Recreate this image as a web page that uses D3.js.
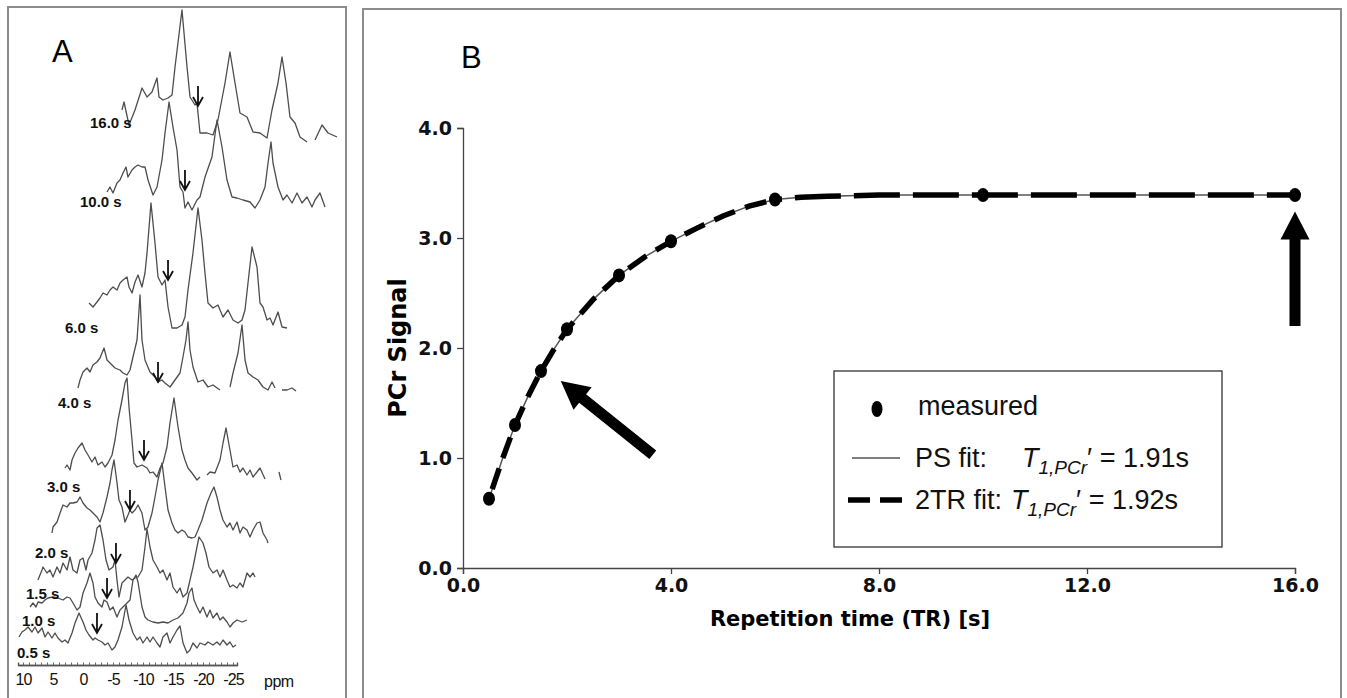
<!DOCTYPE html>
<html>
<head>
<meta charset="utf-8">
<script src="https://d3js.org/d3.v7.min.js"></script>
<style>
  body { margin: 0; background: #fff; }
  svg { display: block; }
</style>
</head>
<body>
<svg id="fig" width="1347" height="698"></svg>
<script>
// ---------- panel B: PCr saturation recovery ----------
const trMeasured = [0.5, 1.0, 1.5, 2.0, 3.0, 4.0, 6.0, 10.0, 16.0];
const pcrMeasured = [0.63, 1.30, 1.79, 2.17, 2.66, 2.97, 3.35, 3.39, 3.39];

const trFit = [0.5, 0.75, 1.0, 1.25, 1.5, 1.75, 2.0, 2.5, 3.0, 3.5, 4.0, 4.5, 5.0, 5.5, 6.0, 6.5, 7.0, 8.0, 10.0, 12.0, 16.0];
const psFitSignal = [0.63, 0.98, 1.30, 1.56, 1.79, 1.99, 2.17, 2.44, 2.66, 2.83, 2.97, 3.09, 3.20, 3.29, 3.35, 3.37, 3.38, 3.39, 3.39, 3.39, 3.39];
const twoTrFitSignal = [0.63, 0.98, 1.30, 1.56, 1.79, 1.99, 2.17, 2.44, 2.66, 2.83, 2.97, 3.09, 3.20, 3.29, 3.35, 3.37, 3.38, 3.39, 3.39, 3.39, 3.39];

const xTicks = [0, 4, 8, 12, 16];
const yTicks = [0, 1, 2, 3, 4];

// annotation arrows, [TR, signal] tail -> tip
const arrowsB = [
  [[3.65, 1.03], [1.88, 1.70]],
  [[16.0, 2.20], [16.0, 3.24]]
];

// ---------- panel A: stacked 31P spectra, [ppm, intensity] ----------
const trLabels = ["0.5 s", "1.0 s", "1.5 s", "2.0 s", "3.0 s", "4.0 s", "6.0 s", "10.0 s", "16.0 s"];

const spec05 = [[10.67,8],[10.17,13],[9.67,15],[9.17,18],[8.5,13],[8.0,18],[7.5,12],[6.83,17],[6.33,8],[5.83,13],[5.17,7],[4.67,12],[4.17,7],[3.5,3],[3.0,5],[2.5,2],[1.83,12],[1.33,22],[0.67,32],[0,23],[-0.5,15],[-1.0,10],[-1.67,5],[-2.0,7],[-2.5,5],[-3.17,3],[-3.67,0],[-4.17,2],[-4.83,-5],[-5.33,-2],[-5.83,5],[-6.5,18],[-7.17,40],[-7.67,25],[-8.33,12],[-9.0,5],[-9.5,8],[-10.0,2],[-10.67,8],[-11.17,3],[-11.67,8],[-12.33,2],[-12.83,-2],[-13.33,8],[-14.0,12],[-14.5,2],[-15.0,8],[-15.67,15],[-16.17,19],[-16.67,2],[-17.33,-8],[-17.83,-5],[-18.33,2],[-19,-3],[-19.5,2],[-20.33,0],[-20.83,3],[-21.67,0],[-22.33,3],[-22.83,0],[-23.33,5],[-24,0],[-24.5,3],[-25,-2],[-25.5,0]];
const spec10 = [[10.67,13],[10.17,17],[9.67,13],[9.33,18],[8.67,17],[8.17,20],[7.67,22],[6.83,23],[6.0,22],[5.17,20],[4.5,23],[4.0,22],[3.5,17],[2.83,10],[2.33,13],[1.83,27],[1.17,37],[0.67,47],[0.17,37],[-0.17,23],[-0.67,17],[-1.33,13],[-1.67,20],[-2.17,18],[-2.67,10],[-3.17,13],[-3.83,3],[-4.33,10],[-4.83,13],[-5.5,17],[-6.0,20],[-6.5,40],[-7.0,45],[-7.33,38],[-8.0,13],[-8.5,3],[-9.0,0],[-9.83,-2],[-10.67,-3],[-11.5,-2],[-12.33,-3],[-13.17,0],[-14,2],[-14.83,7],[-15.5,17],[-15.83,27],[-16.33,32],[-16.67,20],[-17.17,13],[-17.67,7],[-18.17,13],[-18.83,3],[-19.33,10],[-19.83,2],[-20.5,7],[-21,0],[-21.5,3],[-22.17,-2],[-22.67,-7],[-23.17,-3],[-23.83,0],[-24.67,-2],[-25.5,0]];
const spec15 = [[10.67,-3],[10.0,7],[9.83,10],[9.17,4],[8.67,7],[8.17,0],[7.5,10],[7.0,4],[6.5,14],[5.83,7],[5.33,20],[4.83,7],[4.17,4],[3.67,17],[3.17,19],[2.67,7],[2.33,17],[1.67,24],[1.17,37],[0.83,49],[0.33,52],[-0.17,37],[-0.67,17],[-1.17,7],[-1.83,10],[-2.17,17],[-2.5,-3],[-2.83,-20],[-3.33,-6],[-3.83,-3],[-4.33,0],[-5.0,-3],[-5.5,-1],[-6.0,0],[-6.67,7],[-7.17,30],[-7.5,48],[-8.0,30],[-8.5,17],[-9.17,10],[-9.67,4],[-10.17,7],[-10.83,-3],[-11.33,4],[-11.83,-10],[-12.5,-16],[-13,-11],[-13.5,-20],[-14.17,-16],[-14.67,-3],[-15.17,10],[-15.83,30],[-16.17,40],[-16.83,34],[-17.33,24],[-17.83,10],[-18.5,4],[-19.17,7],[-19.67,0],[-20.17,7],[-20.83,-3],[-21.33,-10],[-21.83,-8],[-22.5,-11],[-23,-6],[-23.5,-10],[-24.17,4],[-24.67,0],[-25.17,4],[-25.5,0]];
const spec20 = [[10.67,10],[10.5,16],[9.83,21],[9.33,30],[8.83,38],[8.17,36],[7.67,40],[7.17,40],[6.5,41],[6.0,46],[5.5,40],[4.83,35],[4.33,33],[3.83,30],[3.17,26],[2.67,21],[2.17,30],[1.5,46],[1.0,60],[0.67,73],[0.33,83],[-0.17,60],[-0.5,43],[-1.0,36],[-1.5,21],[-2.0,28],[-2.33,33],[-2.67,30],[-3.17,33],[-3.67,38],[-4.33,30],[-4.83,13],[-5.33,16],[-6.0,30],[-6.5,46],[-7.0,63],[-7.67,80],[-8.17,56],[-8.67,33],[-9.33,20],[-9.83,13],[-10.33,10],[-11,13],[-11.5,11],[-12,6],[-12.67,5],[-13.17,6],[-13.67,13],[-14.33,23],[-15.17,40],[-15.83,50],[-16.33,56],[-16.83,46],[-17.33,33],[-17.83,23],[-18.5,16],[-19,20],[-19.5,13],[-20.17,21],[-20.67,10],[-21.17,16],[-21.83,13],[-22.33,6],[-22.83,13],[-23.5,20],[-24,21],[-24.5,10],[-25.17,3],[-25.33,0]];
const spec30 = [[10.67,11],[10.33,14],[9.83,9],[9.5,19],[9.0,26],[8.5,31],[7.83,36],[7.33,29],[6.83,24],[6.17,17],[5.67,22],[5.17,14],[4.5,17],[4.0,12],[3.5,16],[2.83,24],[2.33,39],[1.83,59],[1.17,79],[0.67,96],[0.33,101],[0,72],[-0.5,39],[-0.83,16],[-1.33,12],[-2.17,14],[-3.0,11],[-3.5,6],[-4.0,7],[-4.67,2],[-5.17,11],[-5.67,16],[-6.33,32],[-6.83,56],[-7.5,81],[-8.17,52],[-8.83,29],[-9.33,19],[-9.83,11],[-10.5,6],[-11.33,-1],[-11.83,2],null,[-13,4],[-13.5,7],[-14.33,6],[-15.17,19],[-15.67,36],[-16.17,51],[-16.83,29],[-17.33,12],[-18,14],[-18.5,7],[-19,11],[-19.67,4],[-20.17,9],[-20.67,2],[-21.33,7],[-21.83,11],[-22.67,0],null,[-25.0,7],[-25.33,-1]];
const spec40 = [[10.67,3],[10.33,11],[9.83,19],[9.17,23],[8.67,19],[8.17,26],[7.5,29],[7.0,33],[6.33,43],[5.83,31],[5.33,28],[4.5,23],[3.67,21],[3.17,18],[2.5,16],[2.0,21],[1.5,34],[0.83,51],[0.33,96],[0,51],[-0.5,31],[-1.33,19],[-2.17,14],[-2.67,9],[-3.33,11],[-3.83,8],[-4.67,4],[-5.5,11],[-6.33,18],[-6.83,34],[-7.33,51],[-7.67,69],[-8.0,41],[-8.5,24],[-9.33,9],[-10.17,11],[-11,4],[-11.83,6],[-13,1],null,[-14.67,4],[-15.17,18],[-16,38],[-16.67,66],[-17.17,31],[-17.67,18],[-18.5,14],[-19.33,11],[-20.17,4],[-21,1],[-21.67,9],[-22.17,3],null,[-23.33,1],[-24.17,1],[-25,3],[-25.67,0]];
const spec60 = [[10.5,25],[9.83,21],[9.17,26],[8.67,30],[8.17,35],[7.5,33],[7.0,38],[6.5,41],[5.83,38],[5.33,45],[4.83,48],[4.17,51],[3.83,41],[3.33,35],[2.83,46],[2.33,53],[1.67,41],[1.17,55],[0.83,75],[0.17,125],[-0.5,85],[-1.0,51],[-1.67,43],[-2.17,48],[-2.67,21],[-3.33,0],[-4.17,0],[-5.0,3],[-5.5,11],[-6.0,38],[-6.83,75],[-7.67,120],[-8.33,88],[-8.83,55],[-9.33,25],[-10.17,20],[-11,23],[-11.83,11],[-12.67,18],[-13.5,8],[-14.33,5],[-15,8],[-15.5,18],[-16,45],[-16.67,81],[-17.5,61],[-18,25],[-18.5,21],[-19.17,8],[-19.67,10],[-20.17,3],[-21,16],[-21.67,1],[-22.5,0]];
const spec100 = [[10.67,15],[10.17,20],[9.67,14],[9.0,24],[8.5,27],[8.0,34],[7.5,40],[7.17,30],[6.5,37],[6.0,40],[5.5,42],[4.83,40],[4.33,40],[3.83,27],[3.0,12],[2.33,20],[1.5,47],[1.0,74],[0.33,105],[-0.33,80],[-1.0,57],[-1.5,20],[-2.0,15],[-2.33,-1],[-2.83,5],[-3.5,-3],[-4.33,7],[-4.83,10],[-5.67,30],[-6.83,50],[-7.67,87],[-8.5,60],[-9.33,27],[-10.17,10],[-11,9],[-12,7],[-13.17,5],[-14,-1],[-14.83,7],[-15.67,20],[-16.17,44],[-16.67,65],[-17,44],[-17.83,20],[-18.67,7],[-19.33,12],[-20.17,4],[-21,14],[-21.83,4],[-22.67,10],[-23.5,0],[-24,7],[-24.83,14],[-25.67,0]];
const spec160 = [[10.67,28],[10.33,36],[9.5,13],[8.5,28],[7.33,50],[6.5,41],[5.67,46],[4.83,60],[4.5,41],[3.83,38],[3.0,40],[2.33,43],[1.83,71],[0.67,128],[-0.17,71],[-0.67,41],[-1.5,33],[-1.83,35],[-2.33,5],[-3.5,5],[-4.5,3],[-5.33,18],[-6.5,55],[-7.33,86],[-8.17,55],[-9,25],[-10.17,21],[-11.17,6],[-12.33,5],[-13.5,0],[-14.33,28],[-15.33,55],[-16,81],[-16.67,55],[-17.33,21],[-18.17,15],[-19,1],[-20.17,-4],null,[-21.5,-2],[-22.67,13],[-23.67,5],[-25.17,1]];

const spectra = [spec05, spec10, spec15, spec20, spec30, spec40, spec60, spec100, spec160];

// gamma-ATP markers (down arrows), [ppm, intensity of arrow tip]
const gammaMarks = [[-2.33,12],[-2.17,22],[-2.33,14],[-2.33,33],[-2.5,19],[-2.67,9],[-2.67,48],[-2.33,17],[-2.0,32]];

const ppmTicks = [10, 5, 0, -5, -10, -15, -20, -25];

// stacking of the pseudo-3D plot (front to back): shift, baseline, label spot
const stackLayout = [
  { dx: 0,   base: 645, lx: 17, ly: 658 },
  { dx: 11,  base: 620, lx: 22, ly: 626 },
  { dx: 19,  base: 577, lx: 26, ly: 599 },
  { dx: 33,  base: 543, lx: 35, ly: 558 },
  { dx: 46,  base: 479, lx: 47, ly: 492 },
  { dx: 59,  base: 391, lx: 58, ly: 408 },
  { dx: 69,  base: 328, lx: 65, ly: 333 },
  { dx: 88,  base: 207, lx: 80, ly: 207 },
  { dx: 103, base: 138, lx: 90, ly: 128 }
];

const svg = d3.select("#fig");
svg.append("rect").attr("width", 1347).attr("height", 698).style("fill", "white");

// panel frames
svg.append("rect")
  .attr("x", 8).attr("y", 7).attr("width", 338).attr("height", 700)
  .style("fill", "none").style("stroke", "#8c8c8c").style("stroke-width", 2);
svg.append("rect")
  .attr("x", 363).attr("y", 9).attr("width", 978).attr("height", 700)
  .style("fill", "none").style("stroke", "#8c8c8c").style("stroke-width", 2);

svg.append("text").attr("x", 52).attr("y", 62).text("A")
  .style("font-family", "Liberation Sans, Arial, sans-serif").style("font-size", "31px");
svg.append("text").attr("x", 461).attr("y", 68).text("B")
  .style("font-family", "Liberation Sans, Arial, sans-serif").style("font-size", "31px");

// ---------- panel A ----------
const ppmX = d3.scaleLinear().domain([0, -25]).range([83, 233]);
const inten = d3.scaleLinear().domain([0, 100]).range([0, -100]);

const gA = svg.append("g").attr("id", "panelA");

const specLine = d3.line()
  .defined(d => d != null)
  .x(d => ppmX(d[0]))
  .y(d => inten(d[1]));

const stacks = gA.selectAll(".spectrum")
  .data(spectra)
  .enter()
  .append("g")
  .attr("class", "spectrum")
  .attr("transform", (d, i) => `translate(${stackLayout[i].dx} ${stackLayout[i].base})`);

stacks.append("path")
  .attr("d", d => specLine(d))
  .style("fill", "none")
  .style("stroke", "#4d4d4d")
  .style("stroke-width", 1.3)
  .style("stroke-linejoin", "round");

// small down arrows at gamma-ATP
stacks.each(function (d, i) {
  const g = d3.select(this);
  const m = gammaMarks[i];
  const x = ppmX(m[0]);
  const y = inten(m[1]);
  g.append("path")
    .attr("d", `M${x},${y - 20}L${x},${y}M${x - 5},${y - 9}L${x},${y}L${x + 5},${y - 9}`)
    .style("fill", "none")
    .style("stroke", "#111")
    .style("stroke-width", 1.8);
});

gA.selectAll(".trlabel")
  .data(trLabels)
  .enter()
  .append("text")
  .attr("class", "trlabel")
  .attr("x", (d, i) => stackLayout[i].lx)
  .attr("y", (d, i) => stackLayout[i].ly)
  .text(d => d)
  .style("font-family", "Liberation Sans, Arial, sans-serif")
  .style("font-weight", "bold")
  .style("font-size", "15px")
  .style("fill", "#111");

// ppm axis
const ppmAxisScale = ppmX.copy().domain([10.83, -25.67]).range([ppmX(10.83), ppmX(-25.67)]);
const ppmAxisG = gA.append("g").attr("transform", "translate(0 665)");
ppmAxisG.call(d3.axisBottom(ppmAxisScale).tickValues(ppmTicks).tickSize(0).tickPadding(9)
  .tickFormat(d => String(d)));
ppmAxisG.append("g").call(d3.axisBottom(ppmAxisScale).tickValues(d3.range(10, -26, -1)).tickSize(-2.5)
  .tickFormat(""));
ppmAxisG.selectAll("path.domain").style("stroke", "#555").style("stroke-width", 1.4);
ppmAxisG.selectAll(".tick line").style("stroke", "#666");
ppmAxisG.selectAll("text")
  .style("font-family", "Liberation Sans, Arial, sans-serif")
  .style("font-size", "16px")
  .style("letter-spacing", "-0.8px")
  .style("fill", "#111");
gA.append("text").attr("x", 264).attr("y", 687).text("ppm")
  .style("font-family", "Liberation Sans, Arial, sans-serif")
  .style("font-size", "16px").style("letter-spacing", "-0.5px").style("fill", "#111");

// ---------- panel B ----------
const x = d3.scaleLinear().domain([0, 16]).range([463, 1295]);
const y = d3.scaleLinear().domain([0, 4]).range([568, 128]);

const gB = svg.append("g").attr("id", "panelB");

const yAxisG = gB.append("g").attr("transform", `translate(${x(0)} 0)`)
  .call(d3.axisLeft(y).tickValues(yTicks).tickSize(6).tickPadding(5).tickFormat(d3.format(".1f")));
const xAxisG = gB.append("g").attr("transform", `translate(0 ${y(0)})`)
  .call(d3.axisBottom(x).tickValues(xTicks).tickSize(6).tickPadding(5).tickFormat(d3.format(".1f")));

[yAxisG, xAxisG].forEach(ax => {
  ax.selectAll("path.domain").style("stroke", "#444").style("stroke-width", 1.3);
  ax.selectAll(".tick line").style("stroke", "#444").style("stroke-width", 1.3);
  ax.selectAll("text")
    .style("font-family", "DejaVu Sans, Verdana, sans-serif")
    .style("font-weight", "bold")
    .style("font-size", "19px")
    .style("fill", "#111");
});

gB.append("text")
  .attr("transform", `translate(406 ${(y(0) + y(4)) / 2}) rotate(-90)`)
  .attr("text-anchor", "middle")
  .text("PCr Signal")
  .style("font-family", "DejaVu Sans, Verdana, sans-serif")
  .style("font-weight", "bold")
  .style("font-size", "24px");

gB.append("text")
  .attr("x", 850)
  .attr("y", 626)
  .attr("text-anchor", "middle")
  .text("Repetition time (TR) [s]")
  .style("font-family", "DejaVu Sans, Verdana, sans-serif")
  .style("font-weight", "bold")
  .style("font-size", "21px");

const fitLine = d3.line().x(d => x(d[0])).y(d => y(d[1]));

const psPts = trFit.map((t, i) => [t, psFitSignal[i]]);
const trPts = trFit.map((t, i) => [t, twoTrFitSignal[i]]);

gB.append("path")
  .attr("d", fitLine(psPts))
  .style("fill", "none").style("stroke", "#555").style("stroke-width", 1.5);

gB.append("path")
  .attr("d", fitLine(trPts.filter(p => p[0] <= 6)))
  .style("fill", "none").style("stroke", "#000").style("stroke-width", 5.5)
  .style("stroke-dasharray", "22,11").style("stroke-dashoffset", -10);
gB.append("path")
  .attr("d", fitLine(trPts.filter(p => p[0] >= 6)))
  .style("fill", "none").style("stroke", "#000").style("stroke-width", 5.5)
  .style("stroke-dasharray", "46,13").style("stroke-dashoffset", -20);

gB.selectAll(".measured")
  .data(trMeasured)
  .enter()
  .append("ellipse")
  .attr("class", "measured")
  .attr("cx", d => x(d))
  .attr("cy", (d, i) => y(pcrMeasured[i]))
  .attr("rx", 6)
  .attr("ry", 7)
  .style("fill", "#000");

// big arrows
function arrowPath(tail, tip, shaftHalf, headHalf, headLen) {
  const [x0, y0] = [x(tail[0]), y(tail[1])];
  const [x1, y1] = [x(tip[0]), y(tip[1])];
  const len = Math.hypot(x1 - x0, y1 - y0);
  const ux = (x1 - x0) / len, uy = (y1 - y0) / len;
  const nx = -uy, ny = ux;
  const bx = x1 - ux * headLen, by = y1 - uy * headLen;
  const pts = [
    [x0 + nx * shaftHalf, y0 + ny * shaftHalf],
    [bx + nx * shaftHalf, by + ny * shaftHalf],
    [bx + nx * headHalf, by + ny * headHalf],
    [x1, y1],
    [bx - nx * headHalf, by - ny * headHalf],
    [bx - nx * shaftHalf, by - ny * shaftHalf],
    [x0 - nx * shaftHalf, y0 - ny * shaftHalf]
  ];
  return "M" + pts.map(p => p.join(",")).join("L") + "Z";
}
gB.selectAll(".bigArrow")
  .data(arrowsB)
  .enter()
  .append("path")
  .attr("class", "bigArrow")
  .attr("d", d => arrowPath(d[0], d[1], 5.5, 14.5, 28))
  .style("fill", "#000");

// legend
const lg = gB.append("g").attr("id", "legend");
lg.append("rect").attr("x", 834).attr("y", 371).attr("width", 388).attr("height", 176)
  .style("fill", "white").style("stroke", "#333").style("stroke-width", 1.3);

const legFont = "Liberation Sans, Arial, sans-serif";
lg.append("ellipse").attr("cx", 877).attr("cy", 409).attr("rx", 5.5).attr("ry", 8).style("fill", "#000");
lg.append("text").attr("x", 918).attr("y", 415).text("measured")
  .style("font-family", legFont).style("font-size", "27px").style("fill", "#111");

lg.append("line").attr("x1", 852).attr("x2", 900).attr("y1", 458).attr("y2", 458)
  .style("stroke", "#555").style("stroke-width", 1.5);
lg.append("line").attr("x1", 848).attr("x2", 902).attr("y1", 500).attr("y2", 500)
  .style("stroke", "#000").style("stroke-width", 5.5).style("stroke-dasharray", "22,10");

function legendRow(yy, name, tx, val) {
  const t = lg.append("text").attr("y", yy)
    .style("font-family", legFont).style("font-size", "27px").style("fill", "#111");
  t.append("tspan").attr("x", 915).text(name);
  t.append("tspan").attr("x", tx).style("font-style", "italic").text("T");
  t.append("tspan").attr("dy", 7).style("font-style", "italic").style("font-size", "19px").text("1,PCr");
  t.append("tspan").attr("dy", -7).text("\u2032 = " + val);
}
legendRow(467, "PS fit:", 1022, "1.91s");
legendRow(509, "2TR fit:", 1011, "1.92s");
</script>
</body>
</html>
